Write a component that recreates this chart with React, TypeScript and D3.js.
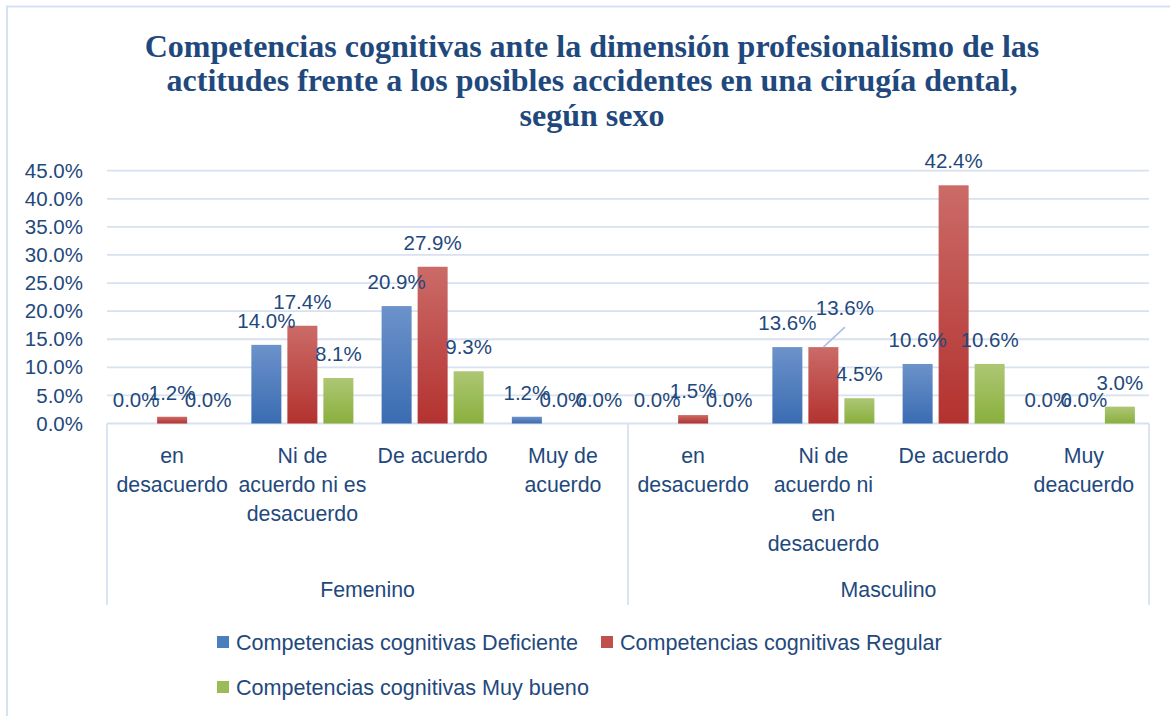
import React from 'react';
import * as d3 from 'd3';

// --- data ---
const genders = ['Femenino', 'Masculino'];
const categories = [
  'en\ndesacuerdo',
  'Ni de\nacuerdo ni es\ndesacuerdo',
  'De acuerdo',
  'Muy de\nacuerdo',
  'en\ndesacuerdo',
  'Ni de\nacuerdo ni\nen\ndesacuerdo',
  'De acuerdo',
  'Muy\ndeacuerdo',
];
const seriesNames = [
  'Competencias cognitivas Deficiente',
  'Competencias cognitivas Regular',
  'Competencias cognitivas Muy bueno',
];
const deficiente = [0.0, 14.0, 20.9, 1.2, 0.0, 13.6, 10.6, 0.0];
const regular = [1.2, 17.4, 27.9, 0.0, 1.5, 13.6, 42.4, 0.0];
const muyBueno = [0.0, 8.1, 9.3, 0.0, 0.0, 4.5, 10.6, 3.0];
const yTicks = [0, 5, 10, 15, 20, 25, 30, 35, 40, 45];
const titleLines = [
  'Competencias cognitivas ante la dimensión profesionalismo de las',
  'actitudes frente a los posibles accidentes en una cirugía dental,',
  'según sexo',
];

const seriesValues = [deficiente, regular, muyBueno];

// --- layout ---
const W = 1170;
const H = 716;
const left = 107;
const right = 1149;
const top = 170.7;
const bottom = 423.5;
const boxBottom = 605;
const textColor = '#1F497D';
const gridColor = '#d7e1f0';
const sans = "'Liberation Sans', Arial, sans-serif";
const serif = "'Liberation Serif', 'Times New Roman', serif";

const gradients = [
  { id: 'gBlue', top: '#6c92ca', bottom: '#3a6cb2' },
  { id: 'gRed', top: '#cb6b68', bottom: '#b3322f' },
  { id: 'gGreen', top: '#adc774', bottom: '#8aaf3d' },
];
const legendColors = ['#4a7ebd', '#c0504d', '#9bbb59'];

// label that Excel moved off its bar (Masculino / Ni de acuerdo / Regular)
const movedLabel = { cat: 5, series: 1, dx: 21.5, dy: -15 };

const legendItems = [
  { series: 0, x: 217, y: 642 },
  { series: 1, x: 601, y: 642 },
  { series: 2, x: 217, y: 687 },
];

export default function App() {
  const x0 = d3
    .scaleBand<number>()
    .domain(categories.map((_, i) => i))
    .range([left, right]);
  const x1 = d3
    .scaleBand<number>()
    .domain([0, 1, 2])
    .range([0, x0.bandwidth()])
    .paddingInner(1 / 6)
    .paddingOuter(0.392);
  const xg = d3.scaleBand<string>().domain(genders).range([left, right]);
  const y = d3.scaleLinear().domain([0, 45]).range([bottom, top]);
  const fmt = (v: number) => v.toFixed(1) + '%';

  return (
    <svg
      width={W}
      height={H}
      style={{ position: 'absolute', left: 0, top: 0, background: '#fff' }}
    >
      <defs>
        {gradients.map((g) => (
          <linearGradient key={g.id} id={g.id} x1="0" y1="0" x2="0" y2="1">
            <stop offset="0%" stopColor={g.top} />
            <stop offset="100%" stopColor={g.bottom} />
          </linearGradient>
        ))}
      </defs>

      {/* chart frame */}
      <rect x={7} y={6.5} width={1200} height={720} fill="none" stroke="#d5e2f3" strokeWidth={2} />

      {/* title */}
      <text
        fontFamily={serif}
        fontWeight="bold"
        fontSize={32}
        fill={textColor}
        textAnchor="middle"
      >
        {titleLines.map((t, i) => (
          <tspan key={i} x={592} y={57 + i * 34.3}>
            {t}
          </tspan>
        ))}
      </text>

      {/* gridlines + y labels */}
      {yTicks.map((t) => (
        <g key={t}>
          <line x1={left} x2={right} y1={y(t)} y2={y(t)} stroke={gridColor} strokeWidth={1.8} />
          <text
            x={83}
            y={y(t)}
            dy="0.35em"
            textAnchor="end"
            fontFamily={sans}
            fontSize={20.5}
            fill={textColor}
          >
            {fmt(t)}
          </text>
        </g>
      ))}

      {/* category box */}
      {[left, xg('Masculino')!, right].map((bx, i) => (
        <line key={i} x1={bx} x2={bx} y1={bottom} y2={boxBottom} stroke={gridColor} strokeWidth={1.8} />
      ))}

      {/* bars */}
      {seriesValues.map((vals, s) =>
        vals.map((v, c) => (
          <rect
            key={`${s}-${c}`}
            x={x0(c)! + x1(s)!}
            y={y(v)}
            width={x1.bandwidth()}
            height={bottom - y(v)}
            fill={`url(#${gradients[s].id})`}
          />
        ))
      )}

      {/* data labels */}
      {seriesValues.map((vals, s) =>
        vals.map((v, c) => {
          const cx = x0(c)! + x1(s)! + x1.bandwidth() / 2;
          const moved = movedLabel.cat === c && movedLabel.series === s;
          const lx = cx + (moved ? movedLabel.dx : 0);
          const ly = y(v) - 17 + (moved ? movedLabel.dy : 0);
          return (
            <g key={`l${s}-${c}`}>
              {moved && (
                <line x1={cx} y1={y(v)} x2={lx} y2={ly + 12} stroke="#a7bfe0" strokeWidth={1.5} />
              )}
              <text x={lx} y={ly} textAnchor="middle" fontFamily={sans} fontSize={20.5} fill={textColor}>
                {fmt(v)}
              </text>
            </g>
          );
        })
      )}

      {/* category labels */}
      {categories.map((c, i) => (
        <text
          key={i}
          textAnchor="middle"
          fontFamily={sans}
          fontSize={21.3}
          fill={textColor}
        >
          {c.split('\n').map((line, j) => (
            <tspan key={j} x={x0(i)! + x0.bandwidth() / 2} y={463 + j * 29.2}>
              {line}
            </tspan>
          ))}
        </text>
      ))}

      {/* gender labels */}
      {genders.map((g) => (
        <text
          key={g}
          x={xg(g)! + xg.bandwidth() / 2}
          y={597}
          textAnchor="middle"
          fontFamily={sans}
          fontSize={21.3}
          fill={textColor}
        >
          {g}
        </text>
      ))}

      {/* legend */}
      {legendItems.map((it) => (
        <g key={it.series}>
          <rect x={it.x} y={it.y - 6} width={12} height={12} fill={legendColors[it.series]} />
          <text
            x={it.x + 19}
            y={it.y}
            dy="0.35em"
            fontFamily={sans}
            fontSize={21.6}
            fill={textColor}
          >
            {seriesNames[it.series]}
          </text>
        </g>
      ))}
    </svg>
  );
}
